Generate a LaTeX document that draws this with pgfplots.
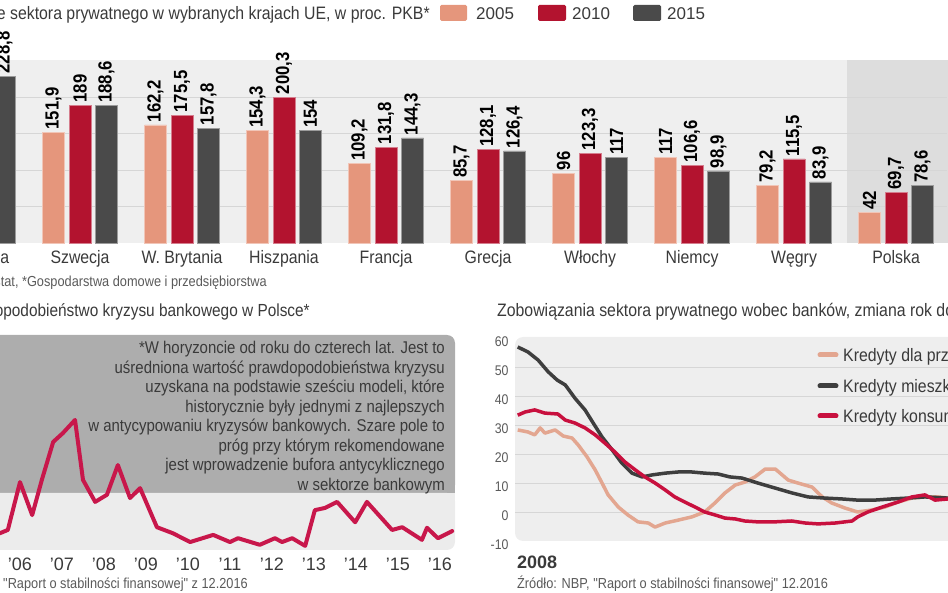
\documentclass[border=0pt]{standalone}
\usepackage{fontspec}
\setmainfont{Liberation Sans}
\newfontfamily\cnd[FakeStretch=0.88]{Liberation Sans}
\usepackage{pgfplots}
\pgfplotsset{compat=1.18}
\newcommand\fs[2]{\fontsize{#1bp}{#2bp}\selectfont}

\definecolor{c05}{HTML}{E5967C}
\definecolor{c10}{HTML}{B3132F}
\definecolor{c15}{HTML}{4A4A4A}
\definecolor{bgl}{HTML}{EFEFEF}
\definecolor{bgd}{HTML}{DDDDDD}
\definecolor{gridc}{HTML}{D6D6D6}
\definecolor{txt}{HTML}{3A3A3A}
\definecolor{txtl}{HTML}{5A5A5A}
\definecolor{crim}{HTML}{C8174B}
\definecolor{dbox}{HTML}{ADADAD}
\definecolor{lbox}{HTML}{ECECEC}
\definecolor{bgr}{HTML}{EEEEEE}
\definecolor{oline}{HTML}{E3A690}
\definecolor{kline}{HTML}{3E3E3E}
\definecolor{rline}{HTML}{C8103E}

\begin{document}
\begin{tikzpicture}
\pgfinterruptboundingbox
\begin{scope}
\clip (0bp,0bp) rectangle (948bp,593bp);

\begin{scope}[x=1bp,y=1bp]
% backgrounds
\fill[bgl] (-5,350) rectangle (847,533);
\fill[bgd] (847,350) rectangle (960,533);
\fill[dbox, rounded corners=8bp] (-10,100) rectangle (455,258);
\fill[dbox] (-10,100) rectangle (455,112);
\fill[lbox, rounded corners=8bp] (-10,43) rectangle (455,100);
\fill[lbox] (-10,88) rectangle (455,100);
\fill[bgr, rounded corners=8bp] (515,52) rectangle (970,256);

% top: title, legend, source
\node[anchor=base east, inner sep=0, font=\cnd\fs{18}{20}, text=txt] at (430,573)
  {Zadłużenie sektora prywatnego w wybranych krajach UE, w proc. PKB*};
\fill[c05, rounded corners=1.5bp] (440,572) rectangle (467,588);
\node[anchor=base west, inner sep=0, font=\fs{17}{20}, text=txt] at (476,573) {2005};
\fill[c10, rounded corners=1.5bp] (538,572) rectangle (566,588);
\node[anchor=base west, inner sep=0, font=\fs{17}{20}, text=txt] at (572,573) {2010};
\fill[c15, rounded corners=1.5bp] (633,572) rectangle (661,588);
\node[anchor=base west, inner sep=0, font=\fs{17}{20}, text=txt] at (667,573) {2015};
\node[anchor=base east, inner sep=0, font=\cnd\fs{14.5}{16}, text=txtl] at (267,307)
  {Źródło: Eurostat, *Gospodarstwa domowe i przedsiębiorstwa};
\end{scope}

\begin{axis}[
  at={(-73bp,350bp)}, anchor=south west, scale only axis,
  width=1020bp, height=182bp,
  xmin=-0.5, xmax=9.5, ymin=0, ymax=250,
  ybar=4.5bp, bar width=22bp,
  axis line style={draw=none}, major tick length=0pt,
  xtick={0,...,9},
  xticklabels={Holandia,Szwecja,W. Brytania,Hiszpania,Francja,Grecja,Włochy,Niemcy,Węgry,Polska},
  xticklabel style={font=\cnd\fs{18}{20}, text=txt, anchor=base, yshift=-21bp},
  ytick={50,100,150,200}, yticklabels={},
  ymajorgrids, grid style={gridc, line width=0.8bp},
  nodes near coords,
  every node near coord/.append style={rotate=90, anchor=west,
    font=\cnd\bfseries\fs{19}{20}, text=black, inner sep=2.5bp},
  clip=false,
  /pgf/number format/use comma,
  /pgf/number format/1000 sep={},
  /pgf/number format/assume math mode=true,
]
\addplot[fill=c05, draw=c05!55!white, line width=0.8bp] coordinates
  {(0,203) (1,151.9) (2,162.2) (3,154.3) (4,109.2) (5,85.7) (6,96) (7,117) (8,79.2) (9,42)};
\addplot[fill=c10, draw=c10!55!white, line width=0.8bp] coordinates
  {(0,229.5) (1,189) (2,175.5) (3,200.3) (4,131.8) (5,128.1) (6,123.3) (7,106.6) (8,115.5) (9,69.7)};
\addplot[fill=c15, draw=c15!55!white, line width=0.8bp] coordinates
  {(0,228.8) (1,188.6) (2,157.8) (3,154) (4,144.3) (5,126.4) (6,117) (7,98.9) (8,83.9) (9,78.6)};
\end{axis}

\begin{scope}[x=1bp,y=1bp]
% bottom left texts
\node[anchor=base east, inner sep=0, font=\cnd\fs{17.5}{20}, text=txt] at (310,277)
  {Prawdopodobieństwo kryzysu bankowego w Polsce*};
\node[anchor=north east, align=right, inner sep=0, font=\cnd\fs{17}{19.5}, text=txt] at (445,252)
  {*W horyzoncie od roku do czterech lat. Jest to\\
   uśredniona wartość prawdopodobieństwa kryzysu\\
   uzyskana na podstawie sześciu modeli, które\\
   historycznie były jednymi z najlepszych\\
   w antycypowaniu kryzysów bankowych. Szare pole to\\
   próg przy którym rekomendowane\\
   jest wprowadzenie bufora antycyklicznego\\
   w sektorze bankowym};
\node[anchor=base east, inner sep=0, font=\cnd\fs{14.5}{16}, text=txtl] at (248,5)
  {Źródło: NBP, "Raport o stabilności finansowej" z 12.2016};
% bottom right texts
\node[anchor=base west, inner sep=0, font=\cnd\fs{18}{20}, text=txt] at (497,277)
  {Zobowiązania sektora prywatnego wobec banków, zmiana rok do roku (w proc.)};
\node[anchor=base west, inner sep=0, font=\bfseries\fs{18}{20}, text=txt] at (517,25) {2008};
\node[anchor=base west, inner sep=0, font=\cnd\fs{14.5}{16}, text=txtl] at (517,5)
  {Źródło: NBP, "Raport o stabilności finansowej" 12.2016};
\end{scope}

% x = year - 2000
\begin{axis}[
  at={(-1bp,43.25bp)}, anchor=south west, scale only axis,
  width=462bp, height=214.5bp,
  xmin=5.5, xmax=16.5, ymin=-0.5, ymax=38.5,
  axis line style={draw=none}, major tick length=0pt,
  ytick=\empty,
  xtick={6,...,16},
  xticklabels={'06,'07,'08,'09,'10,'11,'12,'13,'14,'15,'16},
  xticklabel style={font=\fs{18}{20}, text=txt, anchor=base, yshift=-21bp},
  clip=false,
]
\addplot[crim, line width=4bp, line join=round, line cap=round] coordinates {
  (5.52,2.5) (5.71,3.1) (6.00,11.8) (6.29,5.8) (6.52,12.2)
  (6.79,19.1) (7.02,20.7) (7.31,23.1) (7.50,12.2) (7.79,8.2)
  (8.07,9.5) (8.33,14.9) (8.62,8.9) (8.86,10.7) (9.26,3.6)
  (9.64,2.5) (10.05,0.9) (10.60,2.2) (11.00,0.9) (11.19,1.6)
  (11.71,0.4) (12.07,1.6) (12.24,0.9) (12.48,1.6) (12.79,0.2)
  (13.02,6.7) (13.26,7.1) (13.55,8.2) (13.98,4.5) (14.26,8.2)
  (14.86,3.1) (15.10,3.6) (15.57,1.3) (15.69,3.5) (15.95,1.6)
  (16.29,2.9)};
\end{axis}

% x = year - 2008
\begin{axis}[
  at={(515bp,52bp)}, anchor=south west, scale only axis,
  width=433bp, height=203bp,
  xmin=-0.03, xmax=6.34, ymin=-10, ymax=60,
  axis line style={draw=none}, major tick length=0pt,
  xtick=\empty,
  ytick={0,10,...,50}, extra y ticks={-10,60}, extra y tick style={grid=none},
  ymajorgrids, grid style={gridc, line width=0.8bp},
  yticklabel style={font=\cnd\fs{14}{16}, text=txtl, yshift=-4bp, xshift=-3bp},
  /pgf/number format/assume math mode=true,
  clip=false,
]
\addplot[oline, line width=3.5bp, line join=round] coordinates {
  (0.01,28.3) (0.16,27.6) (0.26,26.6) (0.34,29.0) (0.41,27.2)
  (0.56,28.3) (0.68,26.2) (0.81,25.5) (0.90,23.1) (1.03,19.0)
  (1.15,14.5) (1.25,10.0) (1.34,5.9) (1.49,1.7) (1.63,-1.0)
  (1.78,-3.4) (1.93,-3.8) (2.03,-5.2) (2.18,-3.8) (2.37,-2.8)
  (2.57,-1.7) (2.76,0.0) (2.91,3.1) (3.06,6.6) (3.21,9.3)
  (3.35,10.3) (3.50,12.1) (3.65,14.8) (3.80,14.8) (3.99,11.0)
  (4.13,10.0) (4.34,8.6) (4.49,5.2) (4.63,3.1) (4.82,1.4)
  (5.01,0.0) (5.22,0.7) (5.41,1.7) (5.60,3.4) (5.81,4.8)
  (6.00,5.2) (6.19,5.2) (6.34,4.8)};
\addplot[kline, line width=3.5bp, line join=round] coordinates {
  (0.01,56.9) (0.16,55.2) (0.31,52.4) (0.46,48.3) (0.59,45.5)
  (0.71,43.8) (0.85,39.3) (1.00,35.2) (1.12,30.7) (1.25,25.9)
  (1.40,21.4) (1.54,16.9) (1.69,13.4) (1.84,12.1) (1.99,12.8)
  (2.18,13.4) (2.37,13.8) (2.57,13.8) (2.76,13.4) (2.96,13.1)
  (3.13,12.1) (3.31,11.7) (3.54,10.0) (3.79,8.3) (4.04,6.6)
  (4.28,5.2) (4.53,4.8) (4.78,4.5) (5.01,4.1) (5.26,4.1)
  (5.51,4.5) (5.75,4.8) (6.00,5.2) (6.34,4.8)};
\addplot[rline, line width=3.5bp, line join=round] coordinates {
  (0.01,33.4) (0.12,34.5) (0.26,35.2) (0.41,34.1) (0.60,33.8)
  (0.71,31.7) (0.85,30.7) (1.00,29.0) (1.15,26.6) (1.29,23.8)
  (1.44,20.7) (1.59,17.2) (1.74,14.5) (1.88,12.1) (2.03,10.0)
  (2.18,7.6) (2.32,5.2) (2.47,3.4) (2.62,1.7) (2.76,0.0)
  (2.91,-1.0) (3.06,-2.1) (3.21,-2.4) (3.35,-3.1) (3.54,-3.4)
  (3.79,-3.4) (4.04,-3.1) (4.24,-3.8) (4.43,-4.1) (4.68,-3.8)
  (4.93,-3.1) (5.01,-1.7) (5.16,0.0) (5.37,1.7) (5.60,3.4)
  (5.81,5.2) (6.00,5.9) (6.15,4.1) (6.34,4.5)};
\end{axis}

\begin{scope}[x=1bp,y=1bp]
% legend of the right chart
\draw[oline, line width=5bp, line cap=round] (820,238) -- (836,238);
\node[anchor=base west, inner sep=0, font=\cnd\fs{18}{20}, text=txt] at (843,232) {Kredyty dla przedsiębiorstw};
\draw[kline, line width=5bp, line cap=round] (820,207) -- (836,207);
\node[anchor=base west, inner sep=0, font=\cnd\fs{18}{20}, text=txt] at (843,201) {Kredyty mieszkaniowe};
\draw[rline, line width=5bp, line cap=round] (820,177) -- (836,177);
\node[anchor=base west, inner sep=0, font=\cnd\fs{18}{20}, text=txt] at (843,171) {Kredyty konsumpcyjne};
\end{scope}

\end{scope}
\endpgfinterruptboundingbox
\useasboundingbox (0bp,0bp) rectangle (948bp,593bp);
\end{tikzpicture}
\end{document}
